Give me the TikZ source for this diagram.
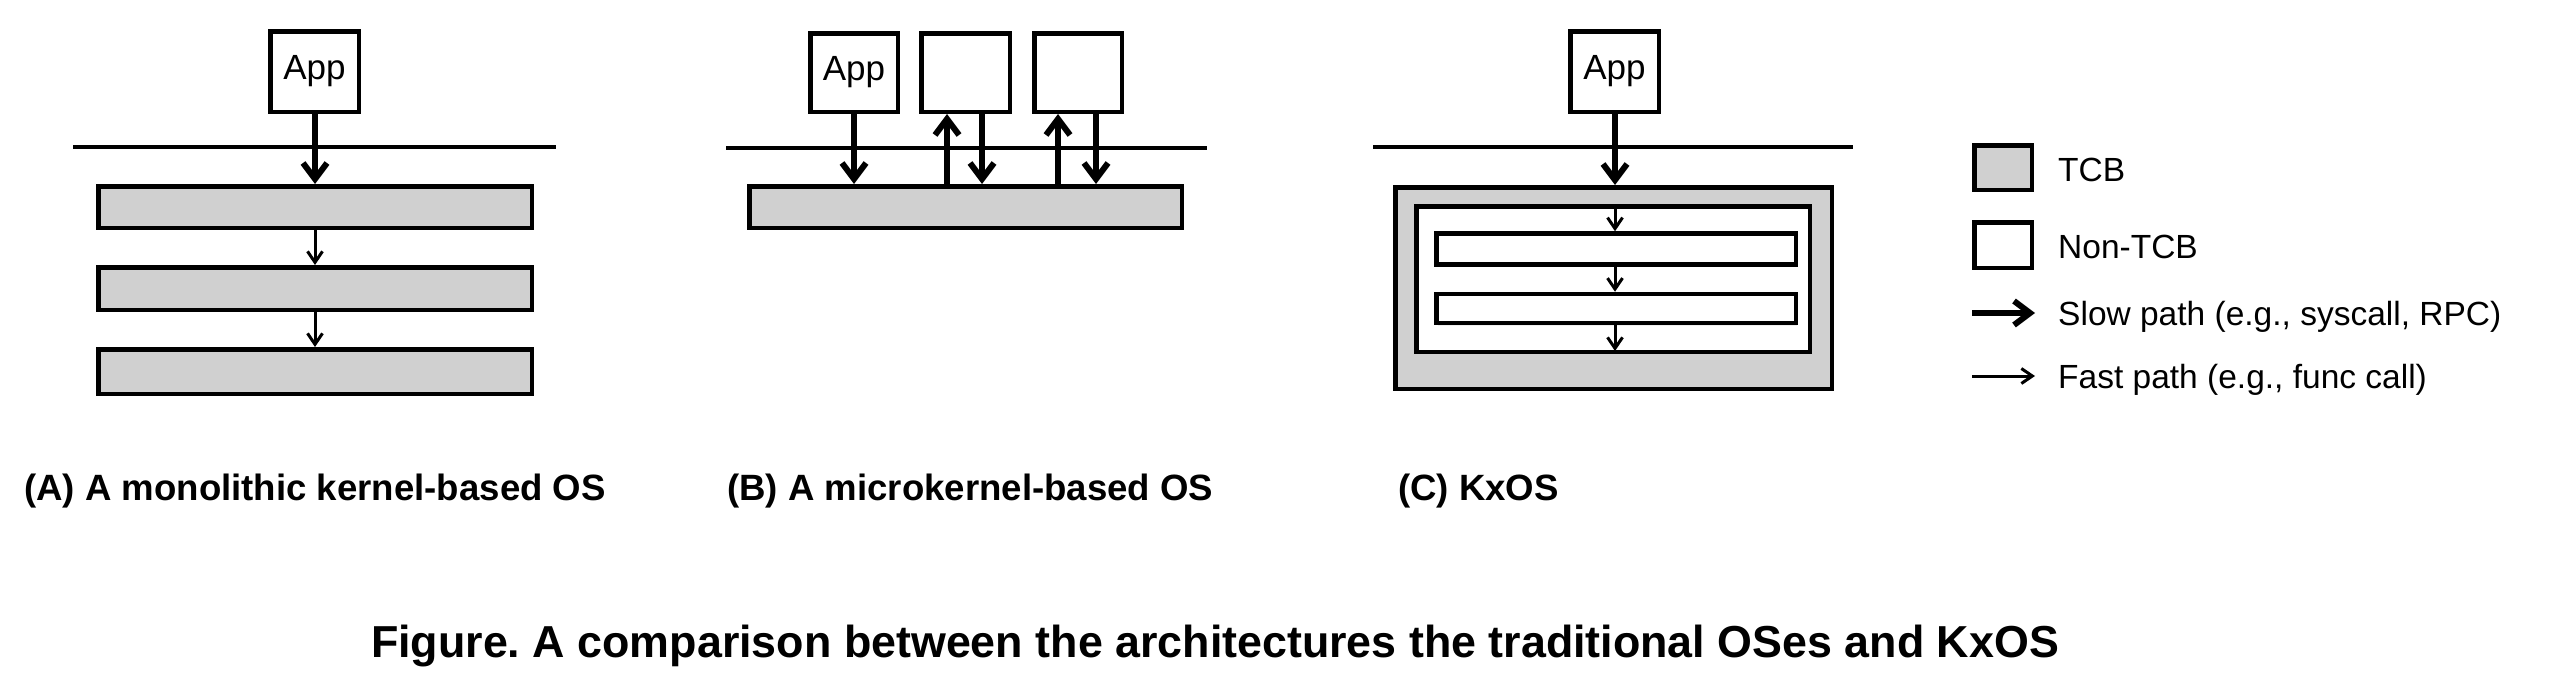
\documentclass[tikz,border=0pt]{standalone}
\usepackage{fontspec}
\setmainfont{Liberation Sans}
\usetikzlibrary{arrows.meta,shadows}
\definecolor{tcbgray}{RGB}{208,208,208}
\frenchspacing
\begin{document}
\begin{tikzpicture}[x=1pt,y=-1pt,
  bx/.style 2 args={draw=black,line width=4.5pt,inner sep=0pt,minimum width=#1,minimum height=#2,
    drop shadow={opacity=0.12,shadow xshift=1.5pt,shadow yshift=-2.5pt}},
  tcb/.style={fill=tcbgray},
  ntcb/.style={fill=white},
  sep/.style={line width=4pt},
  slow/.style={line width=6pt,-{Straight Barb[length=16pt,width=24pt]}},
  fast/.style={line width=3pt,-{Straight Barb[length=11pt,width=15pt]}},
  apptxt/.style={font=\fontsize{35}{38}\selectfont},
  legtxt/.style={font=\fontsize{33.5}{36}\selectfont,anchor=base west,inner sep=0pt},
  captxt/.style={font=\bfseries\fontsize{36.6}{40}\selectfont,anchor=base west,inner sep=0pt},
  titletxt/.style={font=\bfseries\fontsize{44.8}{48}\selectfont,anchor=base,inner sep=0pt}
]
\useasboundingbox[fill=white] (0,0) rectangle (2550,686);

% ---------- (A) monolithic ----------
\node[bx={88.5pt}{80.5pt},ntcb,apptxt] (appA) at (314.5,71.5) {App};
\coordinate (lA1) at (73,147);
\coordinate (lA2) at (556,147);
\draw[sep] (lA1) -- (lA2);
\node[bx={433.5pt}{41.5pt},tcb] (A1) at (315,207) {};
\node[bx={433.5pt}{42.5pt},tcb] (A2) at (315,288.5) {};
\node[bx={433.5pt}{44.5pt},tcb] (A3) at (315,371.5) {};
\coordinate (xA) at (315,0);
\draw[slow] (appA.south -| xA) -- (A1.north -| xA);
\draw[fast] (A1.south -| xA) -- (A2.north -| xA);
\draw[fast] (A2.south -| xA) -- (A3.north -| xA);

% ---------- (B) microkernel ----------
\node[bx={87.5pt}{78.5pt},ntcb,apptxt] (appB) at (854,72.5) {App};
\node[bx={88.5pt}{78.5pt},ntcb] (B2) at (965.5,72.5) {};
\node[bx={87.5pt}{78.5pt},ntcb] (B3) at (1078,72.5) {};
\coordinate (lB1) at (726,148);
\coordinate (lB2) at (1207,148);
\draw[sep] (lB1) -- (lB2);
\node[bx={432.5pt}{41.5pt},tcb] (kB) at (965.5,207) {};
\coordinate (xBa) at (854,0);
\coordinate (xB2u) at (947,0);
\coordinate (xB2d) at (982,0);
\coordinate (xB3u) at (1058,0);
\coordinate (xB3d) at (1096,0);
\draw[slow] (appB.south -| xBa) -- (kB.north -| xBa);
\draw[slow] (kB.north -| xB2u) -- (B2.south -| xB2u);
\draw[slow] (B2.south -| xB2d) -- (kB.north -| xB2d);
\draw[slow] (kB.north -| xB3u) -- (B3.south -| xB3u);
\draw[slow] (B3.south -| xB3d) -- (kB.north -| xB3d);

% ---------- (C) KxOS ----------
\node[bx={88.5pt}{80.5pt},ntcb,apptxt] (appC) at (1614.5,71.5) {App};
\coordinate (lC1) at (1373,147);
\coordinate (lC2) at (1853,147);
\draw[sep] (lC1) -- (lC2);
\node[bx={436.5pt}{201.5pt},tcb] (outC) at (1613.5,288) {};
\node[draw=black,line width=4.5pt,inner sep=0pt,minimum width=393.5pt,minimum height=145.5pt,ntcb] (inC) at (1613,279) {};
\node[bx={359.5pt}{31pt},ntcb] (C1) at (1616,249) {};
\node[bx={359.5pt}{29pt},ntcb] (C2) at (1616,308.5) {};
\coordinate (xC) at (1615,0);
\draw[slow] (appC.south -| xC) -- (outC.north -| xC);
\draw[fast] (inC.north -| xC) -- (C1.north -| xC);
\draw[fast] (C1.south -| xC) -- (C2.north -| xC);
\draw[fast,shorten >=3pt] (C2.south -| xC) -- (inC.south -| xC);

% ---------- Legend ----------
\node[bx={57.5pt}{44.5pt},tcb] (legT) at (2003,167.5) {};
\node[bx={57.5pt}{45.5pt},ntcb] (legN) at (2003,245) {};
\node[legtxt] (legTt) at (2058,181) {TCB};
\node[legtxt] (legNt) at (2058,258) {Non-TCB};
\coordinate (ls1) at (1972,313);
\coordinate (ls2) at (2035,313);
\draw[slow] (ls1) -- (ls2);
\node[legtxt] (legSt) at (2058,325) {Slow path (e.g., syscall, RPC)};
\coordinate (lf1) at (1972,376);
\coordinate (lf2) at (2035,376);
\draw[fast] (lf1) -- (lf2);
\node[legtxt] (legFt) at (2058,388) {Fast path (e.g., func call)};

% ---------- Captions ----------
\node[captxt] (capA) at (24,500) {(A) A monolithic kernel-based OS};
\node[captxt] (capB) at (727,500) {(B) A microkernel-based OS};
\node[captxt] (capC) at (1398,500) {(C) KxOS};
\node[titletxt] (title) at (1215,657) {Figure. A comparison between the architectures the traditional OSes and KxOS};
\end{tikzpicture}
\end{document}
